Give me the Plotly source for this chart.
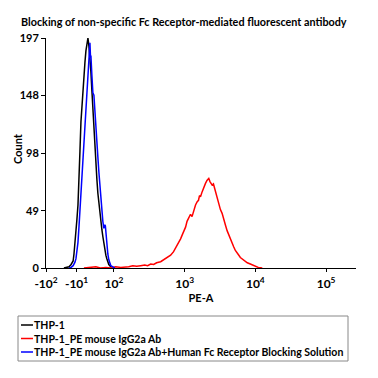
import numpy as np
import plotly.graph_objects as go

# ---------------- data (PE-A value, count) ----------------
thp1_x = [-47, -38, -32, -26, -20, -17.5, -14.6, -11.7, -8.8, -5.8, -2.9, 0, 2.9, 5.8, 8.8, 11.7,
          14.6, 17.5, 20.4, 23.4, 26.3, 29.2, 32.1, 35, 37.9, 40.9, 43.8, 46.7, 49.6, 52.5, 55.5,
          58.4, 61.3, 64.2, 67.1, 70, 73, 75.9, 78.8, 81.7, 84.6, 87.6, 90.5, 96.6]
thp1_y = [0, 0.5, 1, 3, 6, 12, 20, 30, 42, 54, 72, 100, 125, 140, 155, 166,
          176, 186, 193, 197, 190, 182, 168, 152, 135, 118, 100, 87, 76, 64, 55,
          48, 40, 33, 27, 21, 16, 11, 8, 5, 3, 2, 1, 0]

pe_x = [11.7, 30, 46.7, 60, 75.9, 90.5, 106, 125, 147, 162, 185, 210, 239, 273, 300, 331, 365,
        402, 458, 505, 539, 594, 634, 698, 745, 821, 877, 935, 1031, 1082, 1147, 1212, 1273,
        1349, 1426, 1507, 1571, 1623, 1677, 1772, 1848, 1972, 2070, 2195, 2282, 2357, 2451,
        2556, 2728, 2864, 3036, 3208, 3389, 3570, 3773, 3987, 4199, 4437, 4688, 4938, 5217,
        5513, 5807, 6136, 6484, 6829, 7216, 7700, 8487, 9054, 9665, 10548, 10998, 12528]
pe_y = [0, 0.5, 1, 0, 0.5, 0, 1, 0.5, 0.5, 1, 2, 1.5, 2, 2.5, 2, 3.4, 3,
        4.5, 5.4, 7, 8.3, 9.5, 11, 14, 17, 21, 25, 29, 35, 40, 42.5, 46, 44,
        49.7, 54, 56.8, 58, 62, 61, 65.4, 69, 72.5, 75, 76.8, 74, 72, 71,
        72, 65.4, 60, 54, 50, 46.8, 41, 36.8, 32, 28.3, 24, 21, 18.2, 15,
        12.5, 11.1, 9, 8, 6.9, 5.5, 4.5, 3.4, 2.5, 2, 1, 0.5, 0]

blk_x = [-32, -26, -20, -14.6, -11.7, -8.8, -5.8, -2.9, 0, 2.9, 5.8, 8.8, 11.7, 14.6, 17.5,
         20.4, 23.4, 25.5, 26.3, 28.1, 29.2, 31, 32.1, 35, 37.9, 40.9, 43.8, 46.7, 49.6, 52.5,
         55.5, 58.4, 61.3, 64.2, 67.1, 70, 73, 74.5, 75.9, 78.8, 81.7, 84.6, 87.6, 90.5, 96.6, 103]
blk_y = [0, 0.5, 2, 5, 8, 14, 22, 35, 49, 62, 78, 92, 105, 122, 138,
         150, 165, 178, 172, 190, 193, 180, 182, 165, 150, 148, 132, 118, 105, 95,
         82, 70, 58, 48, 40, 34, 37, 36, 30, 20, 12, 7, 4, 2, 1, 0]

series_names = ["THP-1", "THP-1_PE mouse IgG2a Ab",
                "THP-1_PE mouse IgG2a Ab+Human Fc Receptor Blocking Solution"]
series_colors = ["#000000", "#FF0000", "#0000FF"]

y_ticks = [0, 49, 98, 148, 197]
x_tick_vals = [-100, -10, 100, 1000, 10000, 100000]
x_tick_text = ["-10<sup>2</sup>", "-10<sup>1</sup>", "10<sup>2</sup>",
               "10<sup>3</sup>", "10<sup>4</sup>", "10<sup>5</sup>"]
x_limits = [-100, 265000]


# biexponential-like display transform (linear near zero, log above)
def biex(v, L=90.0):
    v = np.asarray(v, dtype=float)
    a = np.abs(v)
    return np.where(a <= L, v / L, np.sign(v) * (1 + np.log(np.maximum(a, 1e-9) / L)))


FONT = "Lato"
W = H = 378
ML, MR, MT, MB = 46, 22, 38, 110
PW, PH = W - ML - MR, H - MT - MB


def px2x(px):
    return (px - ML) / PW


def px2y(py):
    return (H - MB - py) / PH


fig = go.Figure()
data = [(thp1_x, thp1_y), (pe_x, pe_y), (blk_x, blk_y)]
for (xs, ys), name, col in zip(data, series_names, series_colors):
    fig.add_trace(go.Scatter(x=biex(xs), y=ys, mode="lines", name=name,
                             line=dict(color=col, width=1.5), showlegend=False))

fig.update_layout(
    width=W, height=H,
    margin=dict(l=ML, r=MR, t=MT, b=MB, autoexpand=False),
    paper_bgcolor="white", plot_bgcolor="white",
    font=dict(family=FONT, color="black"),
    title=dict(text="<b>Blocking of non-specific Fc Receptor-mediated fluorescent antibody</b>",
               x=21 / W, xanchor="left", y=1 - 22 / H, yanchor="middle",
               font=dict(family=FONT, size=10.8, color="black")),
)
fig.update_xaxes(range=list(biex(x_limits)), tickvals=list(biex(x_tick_vals)),
                 ticktext=["<b>" + t + "</b>" for t in x_tick_text],
                 showline=True, linecolor="black", linewidth=1, ticks="outside",
                 ticklen=3, tickcolor="black", showgrid=False, zeroline=False,
                 automargin=False, ticklabelstandoff=2,
                 tickfont=dict(family=FONT, size=12, color="black"),
                 title=dict(text="<b>PE-A</b>", font=dict(family=FONT, size=11), standoff=0))
fig.update_yaxes(range=[0, 197], tickvals=y_ticks, ticktext=["<b>%d</b>" % t for t in y_ticks],
                 showline=True, linecolor="black", linewidth=1, ticks="outside",
                 ticklen=4, tickcolor="black", showgrid=False, zeroline=False,
                 automargin=False,
                 tickfont=dict(family=FONT, size=11, color="black"))

# y-axis title placed as a rotated annotation
fig.add_annotation(xref="paper", yref="paper", x=px2x(17), y=px2y(149),
                   xanchor="center", yanchor="middle", showarrow=False, textangle=-90,
                   text="<b>Count</b>", font=dict(family=FONT, size=11, color="black"))

# manual legend box
fig.add_shape(type="rect", xref="paper", yref="paper",
              x0=px2x(18), x1=px2x(348), y0=px2y(361), y1=px2y(316),
              line=dict(color="#888888", width=1), fillcolor="white")
for i, (name, col) in enumerate(zip(series_names, series_colors)):
    yy = 325 + i * 13.5
    fig.add_shape(type="line", xref="paper", yref="paper",
                  x0=px2x(21), x1=px2x(33), y0=px2y(yy), y1=px2y(yy),
                  line=dict(color=col, width=1.5))
    fig.add_annotation(xref="paper", yref="paper", x=px2x(33), y=px2y(yy),
                       xanchor="left", yanchor="middle", showarrow=False,
                       text="<b>" + name + "</b>", borderpad=0,
                       font=dict(family=FONT, size=10.5, color="black"))

fig.write_html("out.html")
